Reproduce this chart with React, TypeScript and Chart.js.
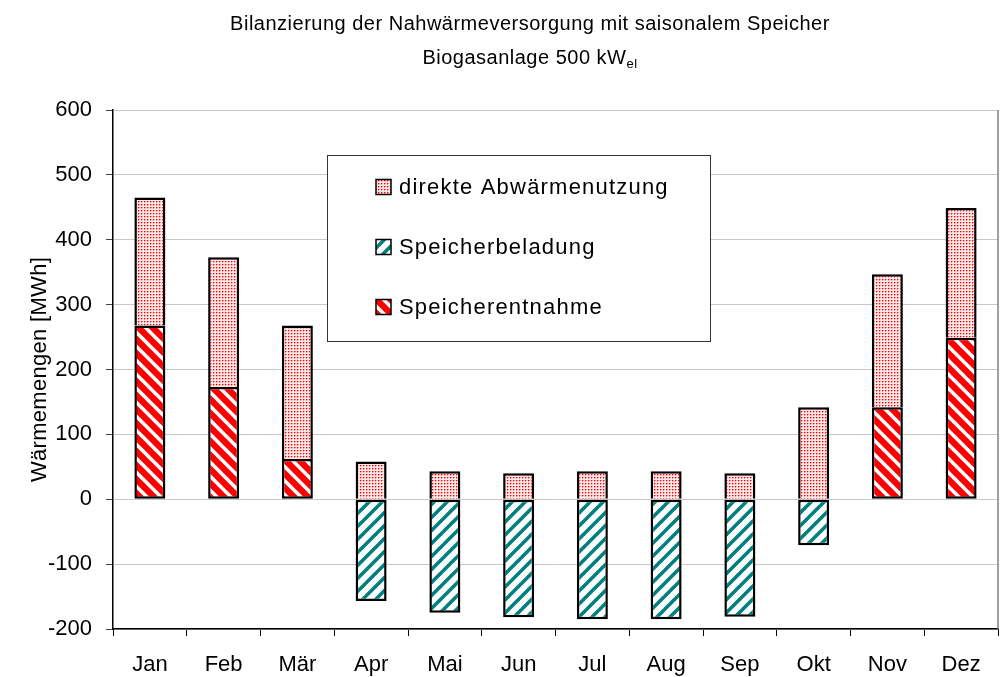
import { useEffect, useRef } from 'react';
import { Chart, registerables } from 'chart.js';

Chart.register(...registerables);

const months = ['Jan', 'Feb', 'Mär', 'Apr', 'Mai', 'Jun', 'Jul', 'Aug', 'Sep', 'Okt', 'Nov', 'Dez'];
const direkteAbwaermenutzung = [197, 200, 206, 58, 43, 40, 43, 43, 40, 142, 205, 200];
const speicherbeladung = [null, null, null, -157, -175, -182, -185, -185, -181, -71, null, null];
const speicherentnahme = [268, 173, 62, null, null, null, null, null, null, null, 142, 249];
const yMin = -200;
const yMax = 600;
const yStep = 100;
const titleLine1 = 'Bilanzierung der Nahwärmeversorgung mit saisonalem Speicher';
const titleLine2 = 'Biogasanlage 500 kW';
const titleSub = 'el';
const yAxisTitle = 'Wärmemengen [MWh]';
const legendLabels = ['direkte Abwärmenutzung', 'Speicherbeladung', 'Speicherentnahme'];

const FONT = '"Liberation Sans", Arial, sans-serif';

function makeDots(): CanvasPattern {
  const c = document.createElement('canvas');
  c.width = 3;
  c.height = 3;
  const g = c.getContext('2d')!;
  g.fillStyle = '#ffe6e6';
  g.fillRect(0, 0, 3, 3);
  g.fillStyle = '#ff8c8c';
  g.fillRect(1, 0, 1, 1);
  g.fillRect(0, 1, 1, 1);
  g.fillStyle = '#ff0000';
  g.fillRect(0, 0, 1, 1);
  return g.createPattern(c, 'repeat')!;
}

function makeStripes(P: number, bg: string, fg: string, w: number, backslash: boolean): CanvasPattern {
  const c = document.createElement('canvas');
  c.width = P;
  c.height = P;
  const g = c.getContext('2d')!;
  g.fillStyle = bg;
  g.fillRect(0, 0, P, P);
  g.strokeStyle = fg;
  g.lineWidth = w;
  for (const o of [-P, 0, P]) {
    g.beginPath();
    if (backslash) {
      g.moveTo(o - 1, -1);
      g.lineTo(o + P + 1, P + 1);
    } else {
      g.moveTo(o - 1, P + 1);
      g.lineTo(o + P + 1, -1);
    }
    g.stroke();
  }
  return g.createPattern(c, 'repeat')!;
}

export default function App() {
  const ref = useRef<HTMLCanvasElement | null>(null);

  useEffect(() => {
    const canvas = ref.current!;
    const dots = makeDots();
    const teal = makeStripes(13, '#ffffff', '#007f7f', 3.6, false);
    const red = makeStripes(14, '#ff0000', '#ffffff', 3.6, true);
    const fills = [dots, teal, red];

    const decorations = {
      id: 'decorations',
      afterDraw(chart: any) {
        const ctx = chart.ctx as CanvasRenderingContext2D;
        const a = chart.chartArea;
        ctx.save();
        ctx.strokeStyle = '#808080';
        ctx.lineWidth = 1.5;
        ctx.beginPath();
        ctx.moveTo(a.right, a.top);
        ctx.lineTo(a.right, a.bottom);
        ctx.stroke();

        ctx.fillStyle = '#000';
        (ctx as any).letterSpacing = '0.5px';
        ctx.font = `20px ${FONT}`;
        ctx.textBaseline = 'alphabetic';
        ctx.textAlign = 'center';
        ctx.fillText(titleLine1, 530, 30);
        ctx.textAlign = 'left';
        const w2 = ctx.measureText(titleLine2).width;
        ctx.font = `13px ${FONT}`;
        const ws = ctx.measureText(titleSub).width;
        const x2 = 530 - (w2 + ws) / 2;
        ctx.font = `20px ${FONT}`;
        ctx.fillText(titleLine2, x2, 64);
        ctx.font = `13px ${FONT}`;
        ctx.fillText(titleSub, x2 + w2, 68);

        ctx.font = `22px ${FONT}`;
        (ctx as any).letterSpacing = '0.3px';
        ctx.translate(40, (a.top + a.bottom) / 2);
        ctx.rotate(-Math.PI / 2);
        ctx.textAlign = 'center';
        ctx.textBaseline = 'middle';
        ctx.fillText(yAxisTitle, 0, 0);
        ctx.restore();

        ctx.save();
        const bx = 327.5, by = 155.5, bw = 383, bh = 186;
        ctx.fillStyle = '#fff';
        ctx.fillRect(bx, by, bw, bh);
        ctx.strokeStyle = '#333';
        ctx.lineWidth = 1;
        ctx.strokeRect(bx, by, bw, bh);
        const ys = [186.5, 246.5, 306.5];
        ctx.font = `22px ${FONT}`;
        (ctx as any).letterSpacing = '1.2px';
        ctx.textBaseline = 'middle';
        ctx.textAlign = 'left';
        legendLabels.forEach((lab, i) => {
          const sx = 376, sy = ys[i] - 7, s = 15;
          ctx.fillStyle = fills[i];
          ctx.fillRect(sx, sy, s, s);
          ctx.strokeStyle = '#000';
          ctx.lineWidth = 1.5;
          ctx.strokeRect(sx, sy, s, s);
          ctx.fillStyle = '#000';
          ctx.fillText(lab, 399, ys[i] + 1);
        });
        ctx.restore();
      },
    };

    const chart = new Chart(canvas, {
      type: 'bar',
      data: {
        labels: months,
        datasets: [
          {
            label: legendLabels[2],
            data: speicherentnahme as any,
            backgroundColor: red,
            borderColor: '#000',
            borderWidth: 2.5,
            borderSkipped: false,
          },
          {
            label: legendLabels[1],
            data: speicherbeladung as any,
            backgroundColor: teal,
            borderColor: '#000',
            borderWidth: 2.5,
            borderSkipped: false,
          },
          {
            label: legendLabels[0],
            data: direkteAbwaermenutzung,
            backgroundColor: dots,
            borderColor: '#000',
            borderWidth: 2.5,
            borderSkipped: 'start',
          },
        ],
      },
      options: {
        responsive: false,
        animation: false,
        datasets: { bar: { categoryPercentage: 1, barPercentage: 0.42 } },
        layout: { padding: { top: 110, left: 0, right: 3, bottom: 0 } },
        plugins: {
          legend: { display: false },
          tooltip: { enabled: false },
          title: { display: false },
        },
        scales: {
          x: {
            stacked: true,
            offset: true,
            grid: { offset: true, drawOnChartArea: false, tickLength: 7, color: '#000', tickColor: '#000' },
            border: { color: '#000', width: 1.5 },
            ticks: { color: '#000', font: { family: FONT, size: 22 }, padding: 16, maxRotation: 0, autoSkip: false },
            afterFit: (s: any) => {
              s.height = 48;
            },
          },
          y: {
            stacked: true,
            min: yMin,
            max: yMax,
            ticks: { stepSize: yStep, color: '#000', font: { family: FONT, size: 22 }, padding: 14 },
            grid: { color: '#c8c8c8', tickColor: '#444', tickLength: 7 },
            border: { color: '#000', width: 1.5 },
            afterFit: (s: any) => {
              s.width = 113;
            },
          },
        },
      },
      plugins: [decorations],
    });
    return () => chart.destroy();
  }, []);

  return (
    <div style={{ position: 'fixed', left: 0, top: 0, width: 1001, height: 677, background: '#fff' }}>
      <canvas ref={ref} width={1001} height={677} />
    </div>
  );
}
